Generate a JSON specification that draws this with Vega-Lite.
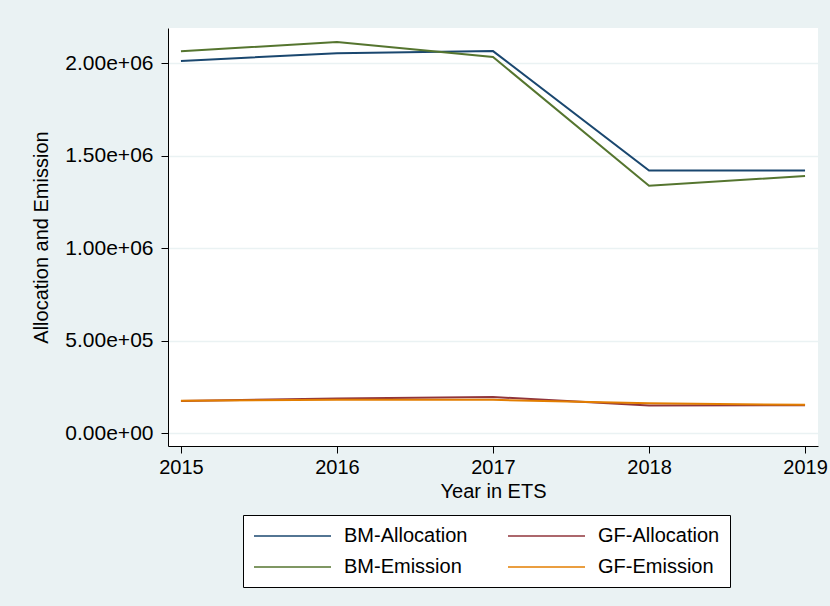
{
  "$schema": "https://vega.github.io/schema/vega-lite/v6.json",
  "width": 650,
  "height": 418,
  "autosize": {"type": "none"},
  "padding": {"left": 168, "top": 28, "right": 12, "bottom": 160},
  "background": "#EAF2F3",
  "config": {
    "font": "Liberation Sans",
    "view": {"stroke": null, "fill": "white"},
    "axis": {
      "labelFont": "Liberation Sans",
      "titleFont": "Liberation Sans",
      "labelColor": "black",
      "titleColor": "black",
      "titleFontWeight": "normal",
      "domainColor": "black",
      "domainWidth": 1,
      "tickColor": "black",
      "tickWidth": 1,
      "tickSize": 7
    },
    "legend": {
      "labelFont": "Liberation Sans"
    }
  },
  "data": {
    "values": [
      {"year": 2015, "series": "BM-Allocation", "value": 2013000},
      {"year": 2016, "series": "BM-Allocation", "value": 2054000},
      {"year": 2017, "series": "BM-Allocation", "value": 2066000},
      {"year": 2018, "series": "BM-Allocation", "value": 1420000},
      {"year": 2019, "series": "BM-Allocation", "value": 1420000},
      {"year": 2015, "series": "BM-Emission", "value": 2065000},
      {"year": 2016, "series": "BM-Emission", "value": 2115000},
      {"year": 2017, "series": "BM-Emission", "value": 2034000},
      {"year": 2018, "series": "BM-Emission", "value": 1338000},
      {"year": 2019, "series": "BM-Emission", "value": 1391000},
      {"year": 2015, "series": "GF-Allocation", "value": 175000},
      {"year": 2016, "series": "GF-Allocation", "value": 188000},
      {"year": 2017, "series": "GF-Allocation", "value": 196000},
      {"year": 2018, "series": "GF-Allocation", "value": 150000},
      {"year": 2019, "series": "GF-Allocation", "value": 152000},
      {"year": 2015, "series": "GF-Emission", "value": 176000},
      {"year": 2016, "series": "GF-Emission", "value": 181000},
      {"year": 2017, "series": "GF-Emission", "value": 181000},
      {"year": 2018, "series": "GF-Emission", "value": 162000},
      {"year": 2019, "series": "GF-Emission", "value": 154000}
    ]
  },
  "mark": {"type": "line", "strokeWidth": 2},
  "encoding": {
    "x": {
      "field": "year",
      "type": "quantitative",
      "scale": {"domain": [2014.917, 2019.083], "nice": false, "zero": false},
      "axis": {
        "values": [2015, 2016, 2017, 2018, 2019],
        "format": "d",
        "grid": false,
        "labelFontSize": 20,
        "labelPadding": 4,
        "labelFlush": false,
        "title": "Year in ETS",
        "titleFontSize": 20,
        "titlePadding": 4
      }
    },
    "y": {
      "field": "value",
      "type": "quantitative",
      "scale": {"domain": [-68650, 2190800], "nice": false, "zero": false},
      "axis": {
        "values": [0, 500000, 1000000, 1500000, 2000000],
        "labelExpr": "replace(format(datum.value, '.2e'), 'e+', 'e+0')",
        "grid": true,
        "gridColor": "#EAF2F3",
        "gridWidth": 1.5,
        "labelFontSize": 21,
        "labelPadding": 8,
        "labelFlush": false,
        "title": "Allocation and Emission",
        "titleFontSize": 20,
        "titlePadding": 13
      }
    },
    "color": {
      "field": "series",
      "type": "nominal",
      "scale": {
        "domain": ["BM-Allocation", "BM-Emission", "GF-Allocation", "GF-Emission"],
        "range": ["#1A476F", "#55752F", "#90353B", "#E37E00"]
      },
      "legend": {
        "title": null,
        "orient": "none",
        "legendX": 75,
        "legendY": 487,
        "columns": 2,
        "symbolType": "M-1,0H6.7",
        "symbolSize": 400,
        "symbolStrokeWidth": 1.5,
        "labelFontSize": 20,
        "labelColor": "black",
        "labelOffset": 69,
        "rowPadding": 10,
        "columnPadding": 37,
        "strokeColor": "black",
        "fillColor": "white",
        "padding": 10
      }
    }
  }
}
